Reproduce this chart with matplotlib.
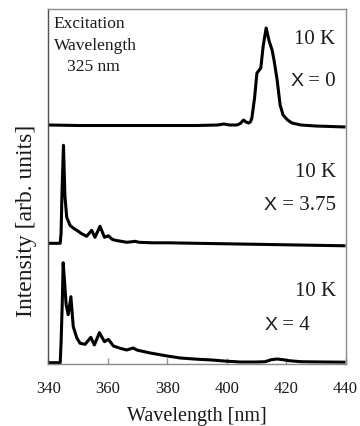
import matplotlib
matplotlib.use("Agg")
import matplotlib.pyplot as plt
import numpy as np

# Photoluminescence spectra at 10 K (stacked, arb. units)
wl_x0 = [340, 350, 370, 390, 397, 399, 401, 403.5, 404.6, 405.7, 406.5, 407.4,
         408.0, 408.5, 409.4, 410.2, 411.0, 411.5, 412.3, 413.3, 414.3, 415.3,
         416.0, 417.0, 418.0, 419.0, 420.5, 422, 425, 430, 440]
int_x0 = [1, 0.5, 0.5, 0.5, 1, 2, 1, 1, 2.5, 6, 4, 3,
          4, 8, 28, 53, 56, 58, 80, 98, 85, 76,
          65, 46, 21, 11, 6, 3, 1, 0, -1]

wl_x375 = [340, 344.0, 344.3, 344.6, 345.1, 345.6, 346.2, 347.3, 348.5, 349.6,
           351, 352.9, 354.6, 355.7, 357.4, 358.9, 360.2, 361.5, 362.5, 364.5,
           366.4, 368, 369.2, 370.5, 375, 380, 390, 400, 420, 440]
int_x375 = [0, 0, 10, 50, 98, 47, 26, 18, 15, 13,
            10, 7, 13, 6, 17, 6, 7.5, 4, 3, 2,
            1, 1.5, 2, 1, 0.5, 0.5, 0, -0.5, -1.5, -2.5]

wl_x4 = [340, 344.0, 344.3, 344.7, 345.0, 345.5, 346.0, 346.7, 347.6, 348.4,
         349.6, 350.7, 352.4, 354.3, 355.5, 357.2, 358.9, 360.2, 361.9, 364.2,
         366.4, 368.5, 370, 374.3, 380, 384.4, 390, 395, 400, 404.6, 410, 413,
         415, 417, 419, 421, 425, 430, 440]
int_x4 = [0, 0, 20, 60, 100, 80, 58, 48, 66, 36,
          24.7, 19.4, 18.4, 25.4, 17.7, 30, 21, 23.4, 16.7, 14.4,
          12.7, 14.7, 12.5, 9.7, 6.7, 4.7, 3.5, 2.7, 1.5, 0.7, 0.7, 1,
          3, 3.7, 3, 2, 1, 0.8, 0.5]

offsets = [238, 120.7, 1.3]
temps = ["10 K", "10 K", "10 K"]
compositions = ["0", "3.75", "4"]
xticks = [340, 360, 380, 400, 420, 440]

serif = "Liberation Serif"
sans = "Liberation Sans"

fig = plt.figure(figsize=(3.6, 4.26), dpi=100)
ax = fig.add_axes([48.3 / 360, 62 / 426, 297.2 / 360, 355 / 426])

for wl, inten, off in zip([wl_x0, wl_x375, wl_x4], [int_x0, int_x375, int_x4], offsets):
    ax.plot(wl, np.asarray(inten) + off, color="black", lw=2.2,
            solid_joinstyle="round", solid_capstyle="butt")

ax.set_xlim(340, 440)
ax.set_ylim(0, 355)
ax.set_xticks(xticks)
ax.set_yticks([])
ax.tick_params(axis="x", direction="in", length=4, width=1, colors="#909090",
               labelcolor="#1a1a1a", pad=12)
for lbl in ax.get_xticklabels():
    lbl.set_family(serif)
    lbl.set_fontsize(12)

for side in ["top", "right", "bottom"]:
    ax.spines[side].set_color("#8a8a8a")
    ax.spines[side].set_linewidth(1.0)
ax.spines["left"].set_color("#505050")
ax.spines["left"].set_linewidth(1.0)

fig.text(0.5 * (48.3 + 345.5) / 360, 5 / 426, "Wavelength [nm]", family=serif,
         fontsize=14.5, ha="center", va="baseline", color="#1a1a1a")
fig.text(27 / 360, (426 - 221) / 426, "Intensity [arb. units]", family=serif,
         fontsize=17, rotation=90, ha="center", va="center", color="#1a1a1a")

ax.text(0.019, 0.98, "Excitation\nWavelength\n   325 nm", transform=ax.transAxes,
        family=serif, fontsize=12.5, ha="left", va="top", linespacing=1.45,
        color="#1a1a1a")

def px(xp, yp):
    return ((xp - 48.3) / 297.2, (364 - yp) / 355)

temp_pos = [px(335.5, 39), px(336, 172), px(336, 292)]
comp_pos = [px(336, 82), px(336, 206), px(310, 325)]

for t, c, tp, cp in zip(temps, compositions, temp_pos, comp_pos):
    ax.text(tp[0], tp[1], t, transform=ax.transAxes, family=serif, fontsize=15,
            ha="right", va="center", color="#1a1a1a")
    rest = ax.text(cp[0], cp[1], " = " + c, transform=ax.transAxes, family=serif,
                   fontsize=15, ha="right", va="center", color="#1a1a1a")
    ax.annotate("X", xy=(0, 0.5), xycoords=rest, family=sans, fontsize=14,
                ha="right", va="center", color="#1a1a1a")

fig.savefig("out.png", dpi=100)
